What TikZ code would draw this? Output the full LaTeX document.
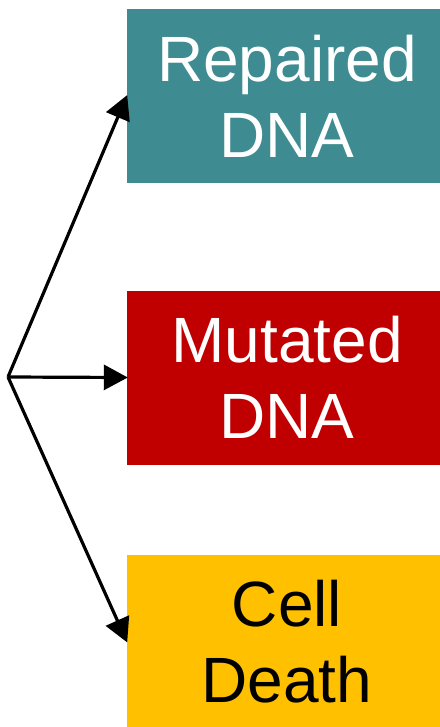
\documentclass[tikz,border=0pt]{standalone}
\usepackage{fontspec}
\setmainfont{Liberation Sans}
\usetikzlibrary{arrows.meta}
\definecolor{tealbox}{HTML}{3E8C91}
\definecolor{redbox}{HTML}{C00000}
\definecolor{yellowbox}{HTML}{FFC000}
\newcommand{\rs}{\hspace*{7bp}}
\begin{document}
\begin{tikzpicture}[x=1bp,y=-1bp,
  box/.style={rectangle, minimum width=313bp, minimum height=174bp, inner sep=0pt,
    align=center, font=\fontsize{64bp}{76bp}\selectfont},
  arr/.style={line width=3.2bp, -{Triangle[length=24bp,width=25bp]}, shorten >=-1bp}]
\useasboundingbox (0,0) rectangle (440,727);
\node[box, fill=tealbox, text=white] (b1) at (283.5,96) {\rs Repaired\\\rs DNA};
\node[box, fill=redbox, text=white] (b2) at (283.5,377.5) {\rs Mutated\\\rs DNA};
\node[box, fill=yellowbox, text=black] (b3) at (283.5,641.5) {\rs Cell\\\rs Death};
\coordinate (o) at (8,377);
\draw[arr] (o) -- (b1.west);
\draw[arr] (o) -- (b2.west);
\draw[arr] (o) -- (b3.west);
\end{tikzpicture}
\end{document}
